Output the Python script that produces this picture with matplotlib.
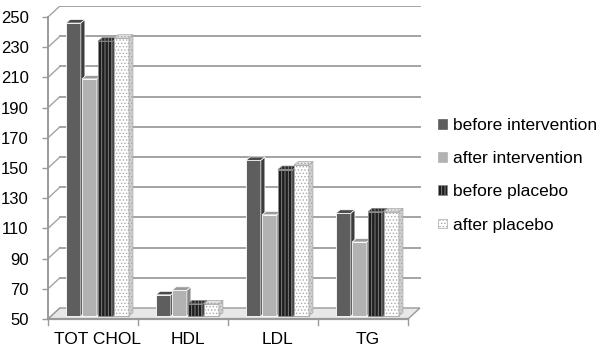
import numpy as np
import matplotlib
matplotlib.use("Agg")
from matplotlib import pyplot as plt
from matplotlib.patches import Polygon, Rectangle, Patch

### DATA ######################################################################

categories = ["TOT CHOL", "HDL", "LDL", "TG"]
series = ["before intervention", "after intervention", "before placebo", "after placebo"]
before_int = [244, 64, 153, 118]
after_int = [207, 67, 117, 99]
before_pla = [232, 58, 147, 119]
after_pla = [234, 58, 150, 119]
yticks = list(range(50, 251, 20))

### STYLE #####################################################################

plt.rcParams['font.family'] = ['Liberation Sans', 'DejaVu Sans']
plt.rcParams['hatch.linewidth'] = 0.6

# front face, top face, side face, hatch, edge
styles = [
    ('#5e5e5e', '#4a4a4a', '#3c3c3c', None, '#ffffff'),
    ('#b2b2b2', '#9a9a9a', '#8a8a8a', None, '#ffffff'),
    ('#1e1e1e', '#2a2a2a', '#333333', '|||||', '#8c8c8c'),
    ('#ffffff', '#e4e4e4', '#d0d0d0', '.....', '#a8a8a8'),
]

grid_col = '#a3a3a3'
dxw, dyw = 0.133, 7.3      # back wall offset
ddx, ddy = 0.045, 2.3      # bar depth
oy = 2.0                   # bars sit a little into the floor
bw, step, start = 0.165, 0.178, 0.2

### FIGURE ####################################################################

fig = plt.figure(figsize=(6, 3.53), dpi=100)
ax = fig.add_axes([48/600, 34/353, 372.6/600, 313.3/353])
ax.set_xlim(0, 4 + dxw + 0.007)
ax.set_ylim(50, 257.5)
ncat = len(categories)

# back wall grid + diagonals
for v in yticks[1:]:
    ax.plot([dxw, ncat + dxw], [v + dyw, v + dyw], color=grid_col, lw=1.4, zorder=1)
for v in yticks:
    ax.plot([0, dxw], [v, v + dyw], color=grid_col, lw=1.0, zorder=1)

# floor
floor = Polygon([(0, 50), (ncat, 50), (ncat + dxw, 50 + dyw), (dxw, 50 + dyw)],
                closed=True, facecolor='#e8e8e8', edgecolor='#9a9a9a', lw=1.0, zorder=2)
ax.add_patch(floor)
ax.plot([0, ncat], [50, 50], color='#9a9a9a', lw=1.6, zorder=2, clip_on=False)
for k in range(ncat + 1):
    ax.plot([k, k], [50, 46], color='#9a9a9a', lw=1.0, zorder=2, clip_on=False)

# bars
data = [before_int, after_int, before_pla, after_pla]
for k in range(ncat):
    for j, vals in enumerate(data):
        fc, tc, sc, hatch, ec = styles[j]
        x0 = k + start + j * step
        y0 = 50 + oy
        y1 = vals[k] + oy
        ax.add_patch(Rectangle((x0, y0), bw, y1 - y0, facecolor=fc, edgecolor=ec,
                               hatch=hatch, lw=0.6, zorder=3))
        ax.add_patch(Polygon([(x0, y1), (x0 + bw, y1), (x0 + bw + ddx, y1 + ddy),
                              (x0 + ddx, y1 + ddy)], closed=True, facecolor=tc,
                             edgecolor=ec, hatch=hatch, lw=0.5, zorder=3))
        ax.add_patch(Polygon([(x0 + bw, y0), (x0 + bw + ddx, y0 + ddy),
                              (x0 + bw + ddx, y1 + ddy), (x0 + bw, y1)], closed=True,
                             facecolor=sc, edgecolor=ec, hatch=hatch, lw=0.5, zorder=3))

# axes
for s in ['top', 'right', 'bottom']:
    ax.spines[s].set_visible(False)
ax.spines['left'].set_bounds(50, 250)
ax.spines['left'].set_color('#9a9a9a')
ax.spines['left'].set_linewidth(1.4)
ax.set_yticks(yticks)
ax.set_yticklabels([str(t) for t in yticks], fontsize=12)
ax.tick_params(axis='y', length=4, width=1.0, color='#9a9a9a', pad=10)
ax.set_xticks(np.arange(ncat) + 0.55)
ax.set_xticklabels(categories, fontsize=12.5)
ax.tick_params(axis='x', length=0, pad=9)

# legend
handles = [Patch(facecolor=st[0], edgecolor=st[4] if st[3] else st[0], hatch=st[3], lw=0.5)
           for st in styles]
fig.legend(handles, series, loc='upper left', bbox_to_anchor=(438/600, 1 - 118/353),
           frameon=False, fontsize=12.5, handlelength=0.5, handleheight=0.5,
           handletextpad=0.35, labelspacing=1.05, borderaxespad=0, borderpad=0)

fig.savefig('out.png', dpi=100)
